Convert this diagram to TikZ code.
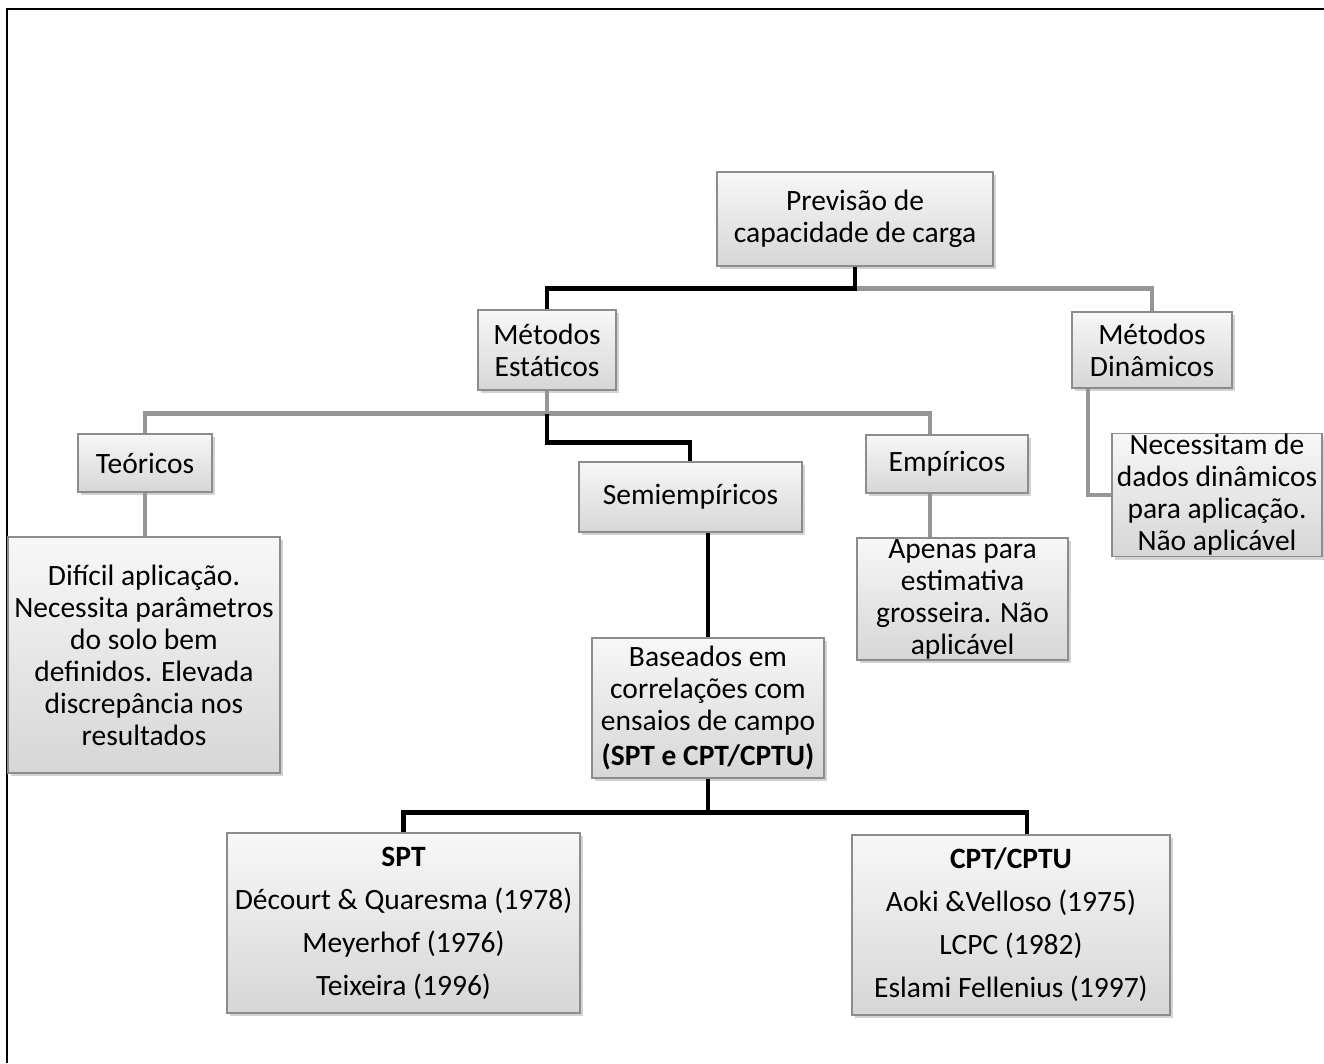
\documentclass[tikz,border=0pt]{standalone}
\usepackage{fontspec}
\setmainfont{Carlito}
\usetikzlibrary{shadows}
\definecolor{lgray}{RGB}{150,150,150}
\definecolor{bordergray}{RGB}{140,140,140}
\tikzset{
  box/.style={draw=bordergray, line width=1.2pt, top color=gray!6, bottom color=gray!32,
    drop shadow={shadow xshift=3pt, shadow yshift=-3pt, opacity=0.35},
    align=center, inner sep=1pt, font=\fontsize{29.5}{32}\selectfont},
  blk/.style={line width=4.5pt, black},
  gry/.style={line width=4.5pt, lgray},
}
\begin{document}
\begin{tikzpicture}[x=1pt,y=-1pt]
\useasboundingbox (0,0) rectangle (1324,1063);
\draw[line width=2pt] (7,1063) -- (7,9) -- (1324,9);

\node[box, minimum width=276pt, minimum height=94pt] (prev) at (855,219) {Previsão de\\capacidade de carga};
\node[box, minimum width=138pt, minimum height=80pt] (estat) at (547,350) {Métodos\\Estáticos};
\node[box, minimum width=160pt, minimum height=76pt] (dinam) at (1152,350) {Métodos\\Dinâmicos};
\node[box, minimum width=210pt, minimum height=120pt] (nec) at (1217,495) {Necessitam de\\dados dinâmicos\\para aplicação.\\Não aplicável};
\node[box, minimum width=134pt, minimum height=58pt] (teor) at (145,463) {Teóricos};
\node[box, minimum width=223pt, minimum height=70pt] (semi) at (690.5,497) {Semiempíricos};
\node[box, minimum width=162pt, minimum height=58pt] (emp) at (947,464) {Empíricos};
\node[box, minimum width=272pt, minimum height=236pt] (dif) at (144,655) {Difícil aplicação.\\Necessita parâmetros\\do solo bem\\definidos. Elevada\\discrepância nos\\resultados};
\node[box, minimum width=211pt, minimum height=122pt] (apenas) at (962.5,599) {Apenas para\\estimativa\\grosseira. Não\\aplicável};
\node[box, minimum width=232pt, minimum height=140pt] (base) at (708,708) {Baseados em\\correlações com\\ensaios de campo\\[3pt]\textbf{(SPT e CPT/CPTU)}};
\node[box, minimum width=353pt, minimum height=180pt, font=\fontsize{29.5}{43}\selectfont] (spt) at (403.5,923) {\textbf{SPT}\\Décourt \& Quaresma (1978)\\Meyerhof (1976)\\Teixeira (1996)};
\node[box, minimum width=318pt, minimum height=180pt, font=\fontsize{29.5}{43}\selectfont] (cpt) at (1011,925) {\textbf{CPT/CPTU}\\Aoki \&Velloso (1975)\\LCPC (1982)\\Eslami Fellenius (1997)};

% connectors
\draw[gry] (prev.south) ++(0,22) -| (dinam.north);
\draw[blk] (prev.south) -- ++(0,22) -| (estat.north);
\draw[gry] (estat.south) -- ++(0,23) coordinate (ebar);
\draw[gry] (ebar) -| (teor.north);
\draw[gry] (ebar) -| ([xshift=-17pt]emp.north);
\draw[blk] (ebar) -- ++(0,29) -| ([xshift=-0.5pt]semi.north);
\draw[gry] (teor.south) -- (teor.south |- dif.north);
\draw[gry] ([xshift=-17pt]emp.south) -- ([xshift=-17pt]emp.south |- apenas.north);
\draw[gry] ([xshift=-64pt]dinam.south) |- (nec.west);
\draw[blk] (base.north |- semi.south) -- (base.north);
\draw[blk] (base.south) -- ++(0,34) coordinate (bbar) -| (spt.north);
\draw[blk] (bbar) -| ([xshift=16pt]cpt.north);
\end{tikzpicture}
\end{document}
